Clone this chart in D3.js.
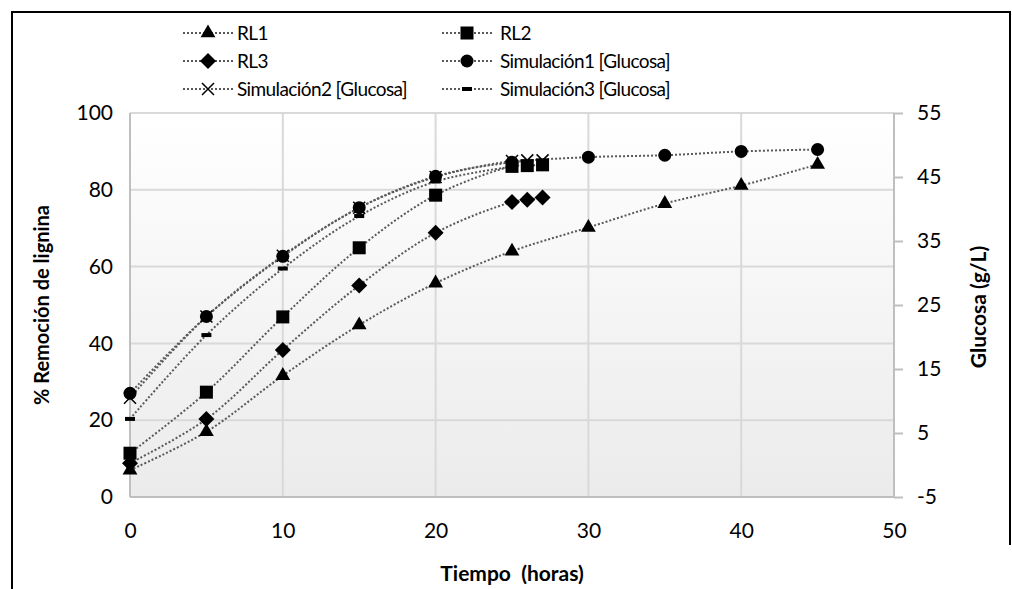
<!DOCTYPE html>
<html>
<head>
<meta charset="utf-8">
<script src="https://cdn.jsdelivr.net/npm/d3@7"></script>
<style>
  body { margin: 0; background: #fff; }
  svg text { font-family: Lato, "Open Sans", sans-serif; fill: #000; white-space: pre; }
</style>
</head>
<body>
<svg id="chart" width="1012" height="589"></svg>
<script>
// time (horas)
var timeRL1 = [0, 5, 10, 15, 20, 25, 30, 35, 40, 45];
var timeRL23 = [0, 5, 10, 15, 20, 25, 26, 27];
var timeSim1 = [0, 5, 10, 15, 20, 25, 30, 35, 40, 45];
var timeSim2 = [0, 5, 10, 15, 20, 25, 26, 27];
var timeSim3 = [0, 5, 10, 15, 20, 25];

// % remoción de lignina (left axis)
var rl1 = [7.0, 17.0, 31.6, 44.8, 55.7, 64.0, 70.2, 76.4, 81.1, 86.6];
var rl2 = [11.4, 27.3, 46.9, 64.9, 78.6, 86.1, 86.3, 86.5];
var rl3 = [8.8, 20.3, 38.3, 55.1, 68.8, 76.8, 77.4, 78.0];

// glucosa g/L (right axis)
var sim1 = [11.2, 23.2, 32.6, 40.2, 45.1, 47.3, 48.1, 48.4, 49.0, 49.3];
var sim2 = [10.5, 23.2, 32.7, 40.2, 45.0, 47.5, 47.6, 47.6];
var sim3 = [7.2, 20.3, 30.7, 38.9, 44.3, 46.6];

var xTicks = [0, 10, 20, 30, 40, 50];
var yLeftTicks = [0, 20, 40, 60, 80, 100];
var yRightTicks = [-5, 5, 15, 25, 35, 45, 55];

var series = [
  { name: "RL1", t: timeRL1, v: rl1, axis: "left", marker: "triangle" },
  { name: "RL2", t: timeRL23, v: rl2, axis: "left", marker: "square" },
  { name: "RL3", t: timeRL23, v: rl3, axis: "left", marker: "diamond" },
  { name: "Simulación1 [Glucosa]", t: timeSim1, v: sim1, axis: "right", marker: "circle" },
  { name: "Simulación2 [Glucosa]", t: timeSim2, v: sim2, axis: "right", marker: "cross" },
  { name: "Simulación3 [Glucosa]", t: timeSim3, v: sim3, axis: "right", marker: "dash" }
];

function drawChart() {
  var svg = d3.select("#chart");
  var pLeft = 130, pRight = 894, pTop = 113, pBottom = 497;

  var x = d3.scaleLinear().domain([0, 50]).range([pLeft, pRight]);
  var yL = d3.scaleLinear().domain([0, 100]).range([pBottom, pTop]);
  var yR = d3.scaleLinear().domain([-5, 55]).range([pBottom, pTop]);

  // outer frame
  svg.append("path")
    .attr("d", "M12,589 V12 H1010 V545")
    .attr("fill", "none")
    .attr("stroke", "#000")
    .attr("stroke-width", 2);

  // plot area gradient
  var grad = svg.append("defs").append("linearGradient")
    .attr("id", "bg").attr("x1", 0).attr("y1", 0).attr("x2", 0).attr("y2", 1);
  grad.append("stop").attr("offset", "0%").attr("stop-color", "#ffffff");
  grad.append("stop").attr("offset", "100%").attr("stop-color", "#ebebeb");

  svg.append("rect")
    .attr("x", pLeft).attr("y", pTop)
    .attr("width", pRight - pLeft).attr("height", pBottom - pTop)
    .attr("fill", "url(#bg)");

  // gridlines
  svg.append("g")
    .selectAll("line")
    .data(yLeftTicks)
    .join("line")
    .attr("x1", pLeft).attr("x2", pRight)
    .attr("y1", d => yL(d)).attr("y2", d => yL(d))
    .attr("stroke", "#d9d9d9").attr("stroke-width", 2);

  svg.append("g")
    .selectAll("line")
    .data(xTicks)
    .join("line")
    .attr("x1", d => x(d)).attr("x2", d => x(d))
    .attr("y1", pTop).attr("y2", pBottom)
    .attr("stroke", "#d9d9d9").attr("stroke-width", 2);

  // axes
  var axisColor = "#bfbfbf";
  var fmt = d => String(d);
  var gx = svg.append("g")
    .attr("transform", `translate(0,${pBottom})`)
    .call(d3.axisBottom(x).tickValues(xTicks).tickFormat(fmt).tickSize(0).tickPadding(26));
  var gyl = svg.append("g")
    .attr("transform", `translate(${pLeft},0)`)
    .call(d3.axisLeft(yL).tickValues(yLeftTicks).tickFormat(fmt).tickSize(0).tickPadding(17));
  var gyr = svg.append("g")
    .attr("transform", `translate(${pRight},0)`)
    .call(d3.axisRight(yR).tickValues(yRightTicks).tickFormat(fmt).tickSize(9).tickPadding(14));

  [gx, gyl, gyr].forEach(g => {
    g.selectAll(".domain").attr("stroke", axisColor).attr("stroke-width", 2);
    g.selectAll(".tick line").attr("stroke", axisColor).attr("stroke-width", 2);
    g.selectAll("text").style("font-size", "21px").attr("fill", "#000");
  });
  gx.select(".domain").attr("d", `M${pLeft},0H${pRight}`);
  gyl.select(".domain").attr("d", `M0,${pTop}V${pBottom}`);
  gyr.select(".domain").attr("d", `M0,${pTop}V${pBottom}`);

  // axis titles
  svg.append("text")
    .attr("x", 512).attr("y", 581)
    .attr("text-anchor", "middle")
    .style("font-size", "21px").style("font-weight", "bold")
    .text("Tiempo  (horas)");
  svg.append("text")
    .attr("transform", "translate(49,305) rotate(-90)")
    .attr("text-anchor", "middle")
    .style("font-size", "20px").style("font-weight", "bold")
    .text("% Remoción de lignina");
  svg.append("text")
    .attr("transform", "translate(986,307) rotate(-90)")
    .attr("text-anchor", "middle")
    .style("font-size", "21px").style("font-weight", "bold")
    .text("Glucosa (g/L)");

  var lineColor = "#595959";
  series.forEach(s => {
    var yScale = s.axis === "left" ? yL : yR;
    var pts = s.t.map((t, i) => [t, s.v[i]]);
    var line = d3.line()
      .x(d => x(d[0]))
      .y(d => yScale(d[1]))
      .curve(d3.curveCatmullRom.alpha(0.5));
    svg.append("path")
      .datum(pts)
      .attr("d", line)
      .attr("fill", "none")
      .attr("stroke", lineColor)
      .attr("stroke-width", 2)
      .attr("stroke-dasharray", "2,2");
  });

  series.forEach(s => {
    var yScale = s.axis === "left" ? yL : yR;
    var pts = s.t.map((t, i) => [t, s.v[i]]);
    svg.append("g")
      .selectAll("g")
      .data(pts)
      .join("g")
      .attr("transform", d => `translate(${x(d[0])},${yScale(d[1])})`)
      .each(function() { drawMarker(d3.select(this), s.marker); });
  });

  // legend
  var legendCols = [183, 442];
  var legendRows = [33, 61, 89];
  var legend = svg.append("g")
    .selectAll("g")
    .data(series)
    .join("g")
    .attr("transform", (d, i) => `translate(${legendCols[i % 2]},${legendRows[Math.floor(i / 2)]})`);

  legend.append("line")
    .attr("x1", 0).attr("x2", 50)
    .attr("stroke", lineColor).attr("stroke-width", 2)
    .attr("stroke-dasharray", "2,2");
  legend.append("g")
    .attr("transform", "translate(25,0)")
    .each(function(d) { drawMarker(d3.select(this), d.marker); });
  legend.append("text")
    .attr("x", (d, i) => i % 2 === 0 ? 54 : 58)
    .attr("dy", "0.35em")
    .style("font-size", "19px")
    .style("letter-spacing", "-0.6px")
    .text(d => d.name);
}

// markers
function drawMarker(g, type) {
  if (type === "triangle") {
    g.append("path").attr("d", d3.symbol(d3.symbolTriangle, 95)()).attr("fill", "#000");
  } else if (type === "square") {
    g.append("rect").attr("x", -6.5).attr("y", -6.5).attr("width", 13).attr("height", 13).attr("fill", "#000");
  } else if (type === "diamond") {
    g.append("path").attr("d", "M0,-8L8,0L0,8L-8,0Z").attr("fill", "#000");
  } else if (type === "circle") {
    g.append("circle").attr("r", 6.5).attr("fill", "#000");
  } else if (type === "cross") {
    g.append("path").attr("d", "M-6,-6L6,6M-6,6L6,-6").attr("stroke", "#000").attr("stroke-width", 1.5);
  } else if (type === "dash") {
    g.append("rect").attr("x", -5).attr("y", -2).attr("width", 10).attr("height", 4).attr("fill", "#000");
  }
}

drawChart();
</script>
</body>
</html>
